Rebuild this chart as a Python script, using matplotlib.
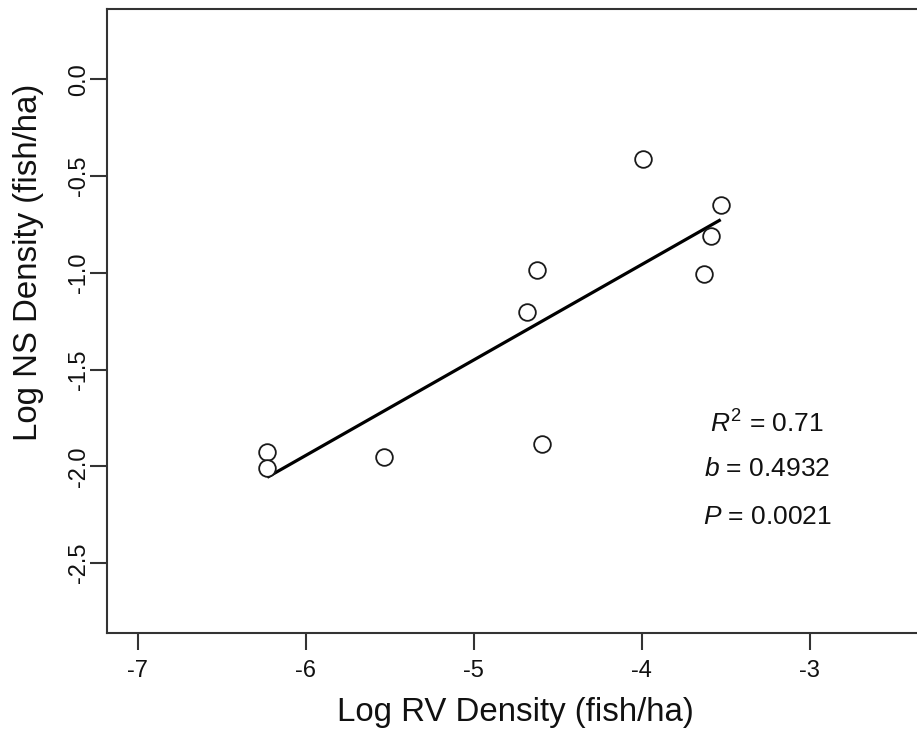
import numpy as np
import matplotlib
matplotlib.use("Agg")
import matplotlib.pyplot as plt

# ---------------------------------------
# Data
# ---------------------------------------
rv_density = [-6.229, -6.229, -5.532, -4.685, -4.623, -4.595, -3.991, -3.631, -3.587, -3.530]
ns_density = [-1.924, -2.006, -1.949, -1.204, -0.983, -1.885, -0.413, -1.007, -0.809, -0.651]

fit_slope = 0.4932
fit_intercept = 1.016

stats_labels = [r"$R^{\mathrm{2}}$ = 0.71", r"$b$ = 0.4932", r"$P$ = 0.0021"]

x_ticks = [-7, -6, -5, -4, -3]
y_ticks = [0.0, -0.5, -1.0, -1.5, -2.0, -2.5]

# ---------------------------------------
# Style
# ---------------------------------------
plt.rcParams['font.family'] = ['Liberation Sans', 'DejaVu Sans']
plt.rcParams['mathtext.fontset'] = 'custom'
plt.rcParams['mathtext.rm'] = 'Liberation Sans'
plt.rcParams['mathtext.it'] = 'Liberation Sans:italic'

W, H = 917, 733
fig = plt.figure(figsize=(W / 100, H / 100), dpi=100)

# axes box runs a little past the right edge of the figure
left, right, bottom, top = 106.7, 924.0, 633.3, 8.7
ax = fig.add_axes([left / W, 1 - bottom / H, (right - left) / W, (bottom - top) / H])

axis_col = '#333333'
for side in ['left', 'top', 'bottom', 'right']:
    ax.spines[side].set_color(axis_col)
    ax.spines[side].set_linewidth(1.5)

ax.set_xlim(-7.1845, -2.320)
ax.set_ylim(-2.862, 0.365)

# ---------------------------------------
# Points and fitted line
# ---------------------------------------
ax.plot(rv_density, ns_density, linestyle='none', marker='o', markersize=12,
        markerfacecolor='white', markeredgecolor='#1a1a1a', markeredgewidth=1.3,
        zorder=3)

xfit = np.array([min(rv_density), max(rv_density)])
ax.plot(xfit, fit_intercept + fit_slope * xfit, color='black', linewidth=2.3,
        solid_capstyle='butt', zorder=2)

# stats text
text_x = -3.254
text_y = [-1.823, -2.048, -2.299]
for lab, ty in zip(stats_labels, text_y):
    ax.text(text_x, ty, lab, ha='center', va='baseline', fontsize=19, color='#111111')

# ---------------------------------------
# Ticks and labels
# ---------------------------------------
ax.set_xticks(x_ticks)
ax.set_xticklabels([f"{v:d}" for v in x_ticks])
ax.set_yticks(y_ticks)
ax.set_yticklabels([f"{v:.1f}" for v in y_ticks], rotation=90, va='center')

ax.tick_params(axis='both', direction='out', length=12.5, width=1.5,
               color=axis_col, labelsize=17, labelcolor='#111111')
ax.tick_params(axis='x', pad=7)
ax.tick_params(axis='y', pad=-0.5)

fig.text((left + right) / 2 / W, 1 - 713 / H, "Log RV Density (fish/ha)",
         ha='center', va='center', fontsize=23.8, color='#111111')
fig.text(29 / W, 1 - 262 / H, "Log NS Density (fish/ha)", rotation=90,
         ha='center', va='center', fontsize=23.8, color='#111111')

fig.savefig("out.png", dpi=100)
